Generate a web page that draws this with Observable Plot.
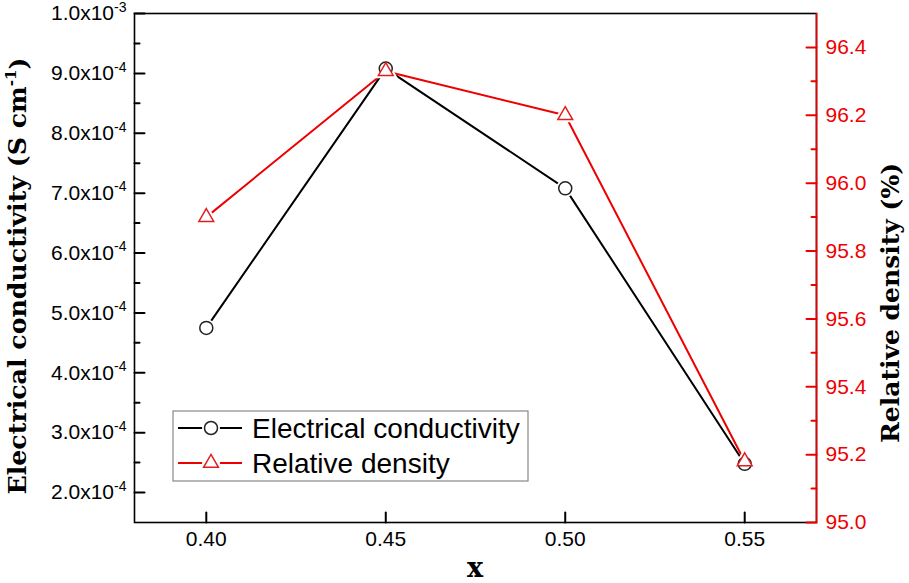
<!DOCTYPE html>
<html>
<head>
<meta charset="utf-8">
<script src="https://cdn.jsdelivr.net/npm/d3@7"></script>
<script src="https://cdn.jsdelivr.net/npm/@observablehq/plot@0.6"></script>
<style>
  html, body { margin: 0; padding: 0; background: white; }
  #chart { width: 909px; height: 583px; }
</style>
</head>
<body>
<div id="chart"></div>
<script>
// ---- data ----
const xValues = [0.40, 0.45, 0.50, 0.55];
const conductivity = [4.75e-4, 9.08e-4, 7.08e-4, 2.48e-4];
const density = [95.90, 96.33, 96.20, 95.18];

const xTicks = [0.40, 0.45, 0.50, 0.55];
const leftTicks = [2e-4, 3e-4, 4e-4, 5e-4, 6e-4, 7e-4, 8e-4, 9e-4, 1e-3];
const leftMinorTicks = [2.5e-4, 3.5e-4, 4.5e-4, 5.5e-4, 6.5e-4, 7.5e-4, 8.5e-4, 9.5e-4];
const rightTicks = [95.0, 95.2, 95.4, 95.6, 95.8, 96.0, 96.2, 96.4];
const rightMinorTicks = [95.1, 95.3, 95.5, 95.7, 95.9, 96.1, 96.3];

const xDomain = [0.38, 0.57];
const leftDomain = [1.5e-4, 1.0e-3];
const rightDomain = [95.0, 96.5];

const seriesNames = ["Electrical conductivity", "Relative density"];

// ---- layout ----
const W = 909, H = 583, ML = 134, MR = 93, MT = 13, MB = 61;
const MAJ = 10, MIN = 5;

// ---- map right-axis values into left-axis (y scale) space ----
const toY = d => leftDomain[0] + (d - rightDomain[0]) * (leftDomain[1] - leftDomain[0]) / (rightDomain[1] - rightDomain[0]);
const fromY = v => rightDomain[0] + (v - leftDomain[0]) * (rightDomain[1] - rightDomain[0]) / (leftDomain[1] - leftDomain[0]);

const condRows = xValues.map((x, i) => ({x, y: conductivity[i]}));
const densRows = xValues.map((x, i) => ({x, y: toY(density[i])}));

const RED = "#ee0000";

function sciLabel(v) {
  const e = Math.floor(Math.log10(v) + 1e-9);
  const m = v / Math.pow(10, e);
  return m.toFixed(1) + "x10|" + e;
}

const id = d => d;
// straight tick shape for vector marks (no arrow head)
const tickShape = {draw(context, l) { context.moveTo(0, 0); context.lineTo(0, -l); }};

const chart = Plot.plot({
  width: W,
  height: H,
  marginLeft: ML,
  marginRight: MR,
  marginTop: MT,
  marginBottom: MB,
  x: {domain: xDomain, label: null},
  y: {domain: leftDomain, label: null},
  style: {fontFamily: "'Liberation Sans', Arial, sans-serif", fontSize: "21px", background: "white", overflow: "visible"},
  marks: [
    Plot.frame({stroke: "black", strokeWidth: 1.6}),
    Plot.ruleX([xDomain[1]], {stroke: RED, strokeWidth: 1.6}),
    // inward ticks (vectors anchored on the frame edges)
    Plot.vector(xTicks, {x: id, y: leftDomain[0], length: MAJ, rotate: 0, anchor: "start", shape: tickShape, stroke: "black", strokeWidth: 2}),
    Plot.vector(leftTicks, {x: xDomain[0], y: id, length: MAJ, rotate: 90, anchor: "start", shape: tickShape, stroke: "black", strokeWidth: 2}),
    Plot.vector(leftMinorTicks, {x: xDomain[0], y: id, length: MIN, rotate: 90, anchor: "start", shape: tickShape, stroke: "black", strokeWidth: 2}),
    Plot.vector(rightTicks.map(toY), {x: xDomain[1], y: id, length: MAJ, rotate: -90, anchor: "start", shape: tickShape, stroke: RED, strokeWidth: 2}),
    Plot.vector(rightMinorTicks.map(toY), {x: xDomain[1], y: id, length: MIN, rotate: -90, anchor: "start", shape: tickShape, stroke: RED, strokeWidth: 2}),
    // tick labels
    Plot.axisX(xTicks, {anchor: "bottom", label: null, tickSize: 0, tickPadding: 9, tickFormat: d3.format(".2f"), fontSize: 21, fill: "black"}),
    Plot.axisY(leftTicks, {anchor: "left", label: null, tickSize: 0, tickPadding: 8, tickFormat: sciLabel, fontSize: 21, fill: "black"}),
    Plot.axisY(rightTicks.map(toY), {anchor: "right", label: null, tickSize: 0, tickPadding: 9, tickFormat: v => d3.format(".1f")(fromY(v)), fontSize: 21, fill: RED}),
    // series
    Plot.line(condRows, {x: "x", y: "y", stroke: "black", strokeWidth: 2}),
    Plot.line(densRows, {x: "x", y: "y", stroke: RED, strokeWidth: 2}),
    Plot.dot(condRows, {x: "x", y: "y", r: 9, fill: "white"}),
    Plot.dot(densRows, {x: "x", y: "y", r: 9, fill: "white", symbol: "triangle"}),
    Plot.dot(condRows, {x: "x", y: "y", r: 6.5, fill: "white", stroke: "#222", strokeWidth: 1.5}),
    Plot.dot(densRows, {x: "x", y: "y", r: 5.5, fill: "white", stroke: "#e02020", strokeWidth: 1.5, symbol: "triangle"})
  ]
});

document.getElementById("chart").appendChild(chart);
const svg = d3.select(chart);
const xMid = ML + (W - ML - MR) / 2;

// superscripts on left tick labels
svg.selectAll("text").each(function() {
  const t = d3.select(this);
  const s = t.text();
  if (s.includes("|")) {
    const [base, exp] = s.split("|");
    t.text(base);
    t.append("tspan").attr("font-size", "14px").attr("dy", "-0.6em").text(exp);
  }
});

// axis titles
const serif = "'DejaVu Serif', 'Liberation Serif', serif";
const lt = svg.append("text")
  .attr("transform", "translate(17,276) rotate(-90)")
  .attr("text-anchor", "middle").attr("dy", "0.36em")
  .attr("font-family", serif).attr("font-weight", "bold").attr("font-size", 25)
  .attr("textLength", 437).attr("lengthAdjust", "spacingAndGlyphs")
  .attr("fill", "black");
lt.append("tspan").text("Electrical conductivity (S cm");
lt.append("tspan").attr("font-size", 15).attr("dy", "-0.7em").text("-1");
lt.append("tspan").attr("dy", "0.45em").text(")");

svg.append("text")
  .attr("transform", "translate(890,303) rotate(-90)")
  .attr("text-anchor", "middle").attr("dy", "0.36em")
  .attr("font-family", serif).attr("font-weight", "bold").attr("font-size", 25)
  .attr("textLength", 280).attr("lengthAdjust", "spacingAndGlyphs")
  .attr("fill", "black")
  .text("Relative density (%)");

svg.append("text")
  .attr("x", xMid).attr("y", 577)
  .attr("text-anchor", "middle")
  .attr("font-family", serif).attr("font-weight", "bold").attr("font-size", 27)
  .attr("fill", "black")
  .text("x");

// legend
const lg = svg.append("g");
lg.append("rect").attr("x", 173).attr("y", 411).attr("width", 355).attr("height", 70)
  .attr("fill", "white").attr("stroke", "#888").attr("stroke-width", 1.2);
const legendRows = [
  {name: seriesNames[0], color: "black", mark: "#222", sym: d3.symbolCircle, r: 6.5, y: 428},
  {name: seriesNames[1], color: RED, mark: "#e02020", sym: d3.symbolTriangle, r: 5.5, y: 463}
];
legendRows.forEach(row => {
  lg.append("path").attr("d", `M178,${row.y}H242`)
    .attr("stroke", row.color).attr("stroke-width", 2).attr("fill", "none");
  lg.append("circle").attr("cx", 211).attr("cy", row.y).attr("r", 9).attr("fill", "white");
  lg.append("path").attr("transform", `translate(211,${row.y})`)
    .attr("d", d3.symbol(row.sym, Math.PI * row.r * row.r)())
    .attr("fill", "white").attr("stroke", row.mark).attr("stroke-width", 1.5);
  lg.append("text").attr("x", 252).attr("y", row.y).attr("dy", "0.36em")
    .attr("text-anchor", "start")
    .attr("font-family", "'Liberation Sans', Arial, sans-serif").attr("font-size", 28)
    .attr("fill", "black").text(row.name);
});
</script>
</body>
</html>
